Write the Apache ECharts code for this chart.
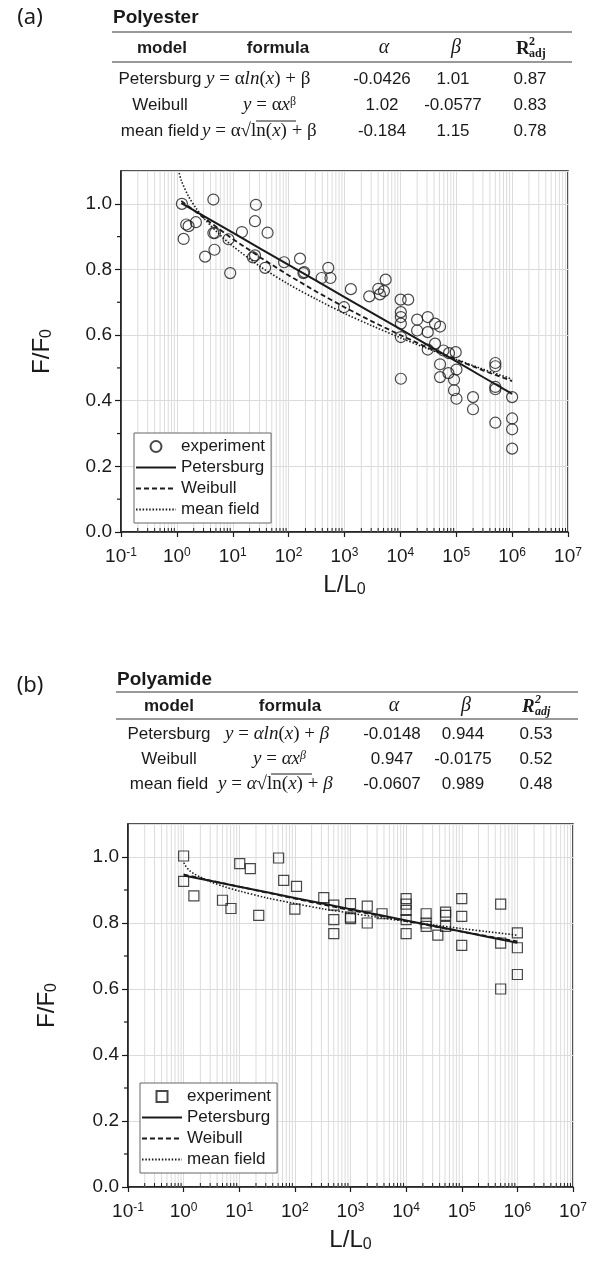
<!DOCTYPE html>
<html>
<head>
<meta charset="utf-8">
<script src="https://cdn.jsdelivr.net/npm/echarts@6/dist/echarts.min.js"></script>
<style>
html, body { margin: 0; padding: 0; background: #fff; }
#main { width: 596px; height: 1263px; }
</style>
</head>
<body>
<div id="main"></div>
<script>
// ---- table text ----
var models = ['Petersburg', 'Weibull', 'mean field'];
var polyesterAlpha = ['-0.0426', '1.02', '-0.184'];
var polyesterBeta = ['1.01', '-0.0577', '1.15'];
var polyesterR2 = ['0.87', '0.83', '0.78'];
var polyamideAlpha = ['-0.0148', '0.947', '-0.0607'];
var polyamideBeta = ['0.944', '-0.0175', '0.989'];
var polyamideR2 = ['0.53', '0.52', '0.48'];

// ---- (a) polyester: experiment [L/L0, F/F0] ----
var polyesterExp = [
    [1.23, 1.00], [1.47, 0.937], [1.62, 0.932], [1.32, 0.893], [2.19, 0.944],
    [4.5, 1.013], [4.5, 0.911], [4.8, 0.911], [4.7, 0.860], [3.2, 0.839],
    [8.4, 0.892], [9.0, 0.789], [14.6, 0.914], [26, 0.997], [25, 0.947],
    [23, 0.837], [25, 0.843], [42, 0.912], [38, 0.805], [83, 0.822],
    [160, 0.833], [184, 0.789], [190, 0.792], [513, 0.805], [390, 0.774],
    [560, 0.774], [1300, 0.740], [980, 0.685], [2770, 0.718], [4030, 0.741],
    [4300, 0.724], [5080, 0.734], [5450, 0.769], [10100, 0.708], [13800, 0.708],
    [10200, 0.670], [10200, 0.655], [10200, 0.635], [19950, 0.647], [30900, 0.655],
    [41700, 0.635], [51300, 0.626], [19950, 0.614], [30900, 0.609], [10200, 0.594],
    [10200, 0.467], [30900, 0.556], [41700, 0.574], [58900, 0.553], [74100, 0.545],
    [97700, 0.548], [51300, 0.511], [51300, 0.472], [72400, 0.484], [101000, 0.495],
    [91200, 0.464], [91200, 0.432], [101000, 0.406], [199500, 0.411], [199500, 0.374],
    [501000, 0.515], [501000, 0.505], [501000, 0.442], [501000, 0.435], [501000, 0.333],
    [1000000, 0.411], [1000000, 0.346], [1000000, 0.313], [1000000, 0.254]
];
// fitted curves
var polyesterFitL = [1.2, 3.16, 10, 31.6, 100, 316, 1000, 3160, 10000, 31600, 100000, 316000, 1000000];
var polyesterPetersburg = [1.002, 0.961, 0.912, 0.863, 0.814, 0.765, 0.716, 0.667, 0.618, 0.569, 0.520, 0.470, 0.421];
var polyesterWeibull = [1.009, 0.955, 0.893, 0.836, 0.782, 0.732, 0.685, 0.641, 0.600, 0.561, 0.525, 0.491, 0.460];
var polyesterMeanL = [1.1, 1.2, 1.6, 2.2, 3.16, 5.6, 10, 31.6, 100, 316, 1000, 3160, 10000, 31600, 100000, 316000, 1000000];
var polyesterMean = [1.094, 1.071, 1.024, 0.987, 0.953, 0.909, 0.871, 0.808, 0.755, 0.709, 0.666, 0.628, 0.592, 0.558, 0.526, 0.495, 0.466];

// ---- (b) polyamide ----
var polyamideExp = [
    [1, 1.003], [1, 0.926], [1.53, 0.882], [5.0, 0.869], [7.1, 0.844],
    [10.2, 0.980], [15.8, 0.965], [22.4, 0.823], [51, 0.997], [63, 0.929],
    [107, 0.911], [100, 0.842], [331, 0.877], [501, 0.854], [501, 0.810],
    [501, 0.768], [1000, 0.859], [1000, 0.818], [1000, 0.813], [2000, 0.851],
    [2000, 0.800], [3690, 0.828], [10000, 0.874], [10000, 0.857], [10000, 0.838],
    [10000, 0.810], [10000, 0.768], [22900, 0.828], [22900, 0.800], [22900, 0.790],
    [37150, 0.763], [51300, 0.833], [51300, 0.823], [51300, 0.790], [100000, 0.874],
    [100000, 0.820], [100000, 0.732], [501000, 0.857], [501000, 0.739], [501000, 0.600],
    [1000000, 0.770], [1000000, 0.725], [1000000, 0.644]
];
var polyamideFitL = [1, 3.16, 10, 31.6, 100, 316, 1000, 3160, 10000, 31600, 100000, 316000, 1000000];
var polyamidePetersburg = [0.944, 0.927, 0.910, 0.893, 0.876, 0.859, 0.842, 0.825, 0.808, 0.791, 0.774, 0.757, 0.740];
var polyamideWeibull = [0.947, 0.928, 0.910, 0.892, 0.874, 0.856, 0.839, 0.823, 0.806, 0.790, 0.774, 0.759, 0.744];
var polyamideMeanL = [1.01, 1.05, 1.26, 1.58, 2.0, 3.16, 5.6, 10, 31.6, 100, 316, 1000, 3160, 10000, 31600, 100000, 316000, 1000000];
var polyamideMean = [0.983, 0.976, 0.960, 0.948, 0.939, 0.924, 0.909, 0.897, 0.876, 0.859, 0.843, 0.830, 0.817, 0.805, 0.794, 0.783, 0.773, 0.763];

// minor (2..9) positions of the log axis, minor y ticks
var minorL = [];
for (var k = -1; k < 7; k++) {
    for (var m = 2; m < 10; m++) minorL.push([m * Math.pow(10, k), 0]);
}
var minorF = [[0.1, 0.1], [0.1, 0.3], [0.1, 0.5], [0.1, 0.7], [0.1, 0.9]];

function pairs(xs, ys) {
    return xs.map(function (x, i) { return [x, ys[i]]; });
}

var SANS = 'Liberation Sans';
var SERIF = 'Liberation Serif';
var INK = '#1a1a1a';
var GRID = '#dcdcdc';

// ---------- axes ----------
function makeX(gi) {
    return {
        type: 'log', logBase: 10, min: 0.1, max: 1e7, gridIndex: gi,
        name: '{n|L/L}{s|0}', nameLocation: 'middle', nameGap: 40,
        nameTextStyle: {
            rich: {
                n: {fontFamily: SANS, fontSize: 24, color: INK, lineHeight: 26},
                s: {fontFamily: SANS, fontSize: 16, color: INK, lineHeight: 8, verticalAlign: 'bottom'}
            }
        },
        axisLine: {onZero: false, lineStyle: {color: INK, width: 1.5}},
        axisTick: {length: 5, lineStyle: {color: INK, width: 1.2}},
        axisLabel: {
            margin: 15,
            formatter: function (v) {
                return '{b|10}{e|' + Math.round(Math.log10(v)) + '}';
            },
            rich: {
                b: {fontFamily: SANS, fontSize: 19, color: INK, lineHeight: 20},
                e: {fontFamily: SANS, fontSize: 12, color: INK, lineHeight: 8, verticalAlign: 'top'}
            }
        },
        splitLine: {show: true, lineStyle: {color: GRID, width: 1}}
    };
}

function makeY(gi, gap) {
    return {
        type: 'value', min: 0, max: 1.1, interval: 0.2, gridIndex: gi,
        name: '{n|F/F}{s|0}', nameLocation: 'middle', nameGap: gap, nameRotate: 90,
        nameTextStyle: {
            rich: {
                n: {fontFamily: SANS, fontSize: 24, color: INK, lineHeight: 26},
                s: {fontFamily: SANS, fontSize: 16, color: INK, lineHeight: 8, verticalAlign: 'bottom'}
            }
        },
        axisLine: {show: true, lineStyle: {color: INK, width: 1.5}},
        axisTick: {show: true, length: 6, lineStyle: {color: INK, width: 1.2}},
        axisLabel: {
            margin: 9, fontFamily: SANS, fontSize: 19, color: INK, showMaxLabel: false,
            formatter: function (v) { return v > 1.05 ? '' : v.toFixed(1); }
        },
        splitLine: {show: true, lineStyle: {color: GRID, width: 1}}
    };
}

// minor grid lines and ticks through the axis scale
function minorSeries(gi) {
    return {
        type: 'custom', xAxisIndex: gi, yAxisIndex: gi, silent: true, z: 1,
        data: minorL,
        renderItem: function (params, api) {
            var p0 = api.coord([api.value(0), 0]);
            var p1 = api.coord([api.value(0), 1.1]);
            return {
                type: 'group',
                children: [
                    {type: 'line', shape: {x1: p0[0], y1: p0[1], x2: p1[0], y2: p1[1]},
                        style: {stroke: GRID, lineWidth: 1}},
                    {type: 'line', shape: {x1: p0[0], y1: p0[1], x2: p0[0], y2: p0[1] - 4},
                        style: {stroke: INK, lineWidth: 1}}
                ]
            };
        }
    };
}
function minorYSeries(gi) {
    return {
        type: 'custom', xAxisIndex: gi, yAxisIndex: gi, silent: true, z: 1,
        data: minorF,
        renderItem: function (params, api) {
            var p = api.coord([api.value(0), api.value(1)]);
            return {type: 'line', shape: {x1: p[0], y1: p[1], x2: p[0] - 4, y2: p[1]},
                style: {stroke: INK, lineWidth: 1.2}};
        }
    };
}

function fitSeries(name, gi, data, kind) {
    var ls = {color: INK, width: 2, type: 'solid'};
    if (kind === 'dash') ls = {color: INK, width: 1.8, type: [5, 3]};
    if (kind === 'dot') ls = {color: INK, width: 1.6, type: [1.5, 1.8]};
    return {
        name: name, type: 'line', xAxisIndex: gi, yAxisIndex: gi, z: 4,
        data: data, showSymbol: false, symbol: 'none', smooth: kind === 'dot' ? 0.3 : false,
        lineStyle: ls, itemStyle: {color: INK}
    };
}

function expSeries(name, gi, data, symbol, size) {
    return {
        name: name, type: 'scatter', xAxisIndex: gi, yAxisIndex: gi, z: 3,
        data: data, symbol: symbol, symbolSize: size, symbolKeepAspect: true,
        itemStyle: {color: 'rgba(255,255,255,0)', borderColor: INK, borderWidth: 1.2}
    };
}

function makeLegend(left, top, suffix, icon) {
    var names = ['experiment', 'Petersburg', 'Weibull', 'mean field'];
    return {
        orient: 'vertical', left: left, top: top,
        data: names.map(function (n, i) {
            if (i === 0) return {name: n + suffix, icon: icon};
            return {name: n + suffix, itemStyle: {opacity: 0}};
        }),
        formatter: function (n) { return n.slice(0, n.length - suffix.length); },
        itemWidth: 40, itemHeight: 11, itemGap: 0, symbolKeepAspect: true,
        textStyle: {fontFamily: SANS, fontSize: 17, color: INK, lineHeight: 21},
        borderColor: '#666', borderWidth: 1, padding: [3, 6, 3, 1],
        backgroundColor: '#fff', selectedMode: false
    };
}

// ---------- table (graphic text) ----------
function txt(x, y, text, st) {
    return {
        type: 'text', x: x, y: y, z: 10,
        style: Object.assign({text: text, fill: INK, fontFamily: SANS, fontSize: 17,
            align: 'center', verticalAlign: 'middle'}, st || {})
    };
}
function rule(x1, x2, y) {
    return {type: 'line', z: 10, shape: {x1: x1, y1: y, x2: x2, y2: y}, style: {stroke: '#777', lineWidth: 1.3}};
}

var formulaRich = {
    i: {fontFamily: SERIF, fontSize: 19, fontStyle: 'italic', fill: INK},
    r: {fontFamily: SERIF, fontSize: 19, fill: INK},
    sup: {fontFamily: SERIF, fontSize: 12, fill: INK, verticalAlign: 'top', lineHeight: 6},
    supi: {fontFamily: SERIF, fontSize: 12, fontStyle: 'italic', fill: INK, verticalAlign: 'top', lineHeight: 6}
};

function buildTable(o) {
    var g = [];
    g.push(txt(o.labelX, o.labelY, o.label, {fontFamily: 'Noto Sans', fontSize: 22, align: 'center'}));
    g.push(txt(o.left, o.titleY, o.title, {fontWeight: 'bold', fontSize: 19, align: 'left'}));
    g.push(rule(o.left - 1, o.right, o.rule1));
    g.push(rule(o.left - 1, o.right, o.rule2));
    var hy = o.headY;
    g.push(txt(o.cModel, hy, 'model', {fontWeight: 'bold'}));
    g.push(txt(o.cFormula, hy, 'formula', {fontWeight: 'bold'}));
    g.push(txt(o.cAlpha, hy, 'α', {fontFamily: SERIF, fontStyle: 'italic', fontSize: 20}));
    g.push(txt(o.cBeta, hy, 'β', {fontFamily: SERIF, fontStyle: 'italic', fontSize: 20}));
    var rs = {fontFamily: SERIF, fontWeight: 'bold', fontStyle: o.italicR ? 'italic' : 'normal', align: 'left'};
    g.push(txt(o.cR2 - 14, hy + 1, 'R', Object.assign({fontSize: 19}, rs)));
    g.push(txt(o.cR2 - 1, hy - 6, '2', Object.assign({fontSize: 12}, rs)));
    g.push(txt(o.cR2 - 1, hy + 6, 'adj', Object.assign({fontSize: 12}, rs)));
    for (var r = 0; r < 3; r++) {
        var y = o.rowY[r];
        g.push(txt(o.cModelRow, y, models[r]));
        g.push(txt(o.formulaX[r], y, o.formulas[r], {align: 'left', rich: formulaRich}));
        g.push(txt(o.cAlpha - 2, y, o.alpha[r]));
        g.push(txt(o.cBeta - 3, y, o.beta[r]));
        g.push(txt(o.cR2 + 0, y, o.r2[r]));
    }
    // radical bar over ln(x)
    g.push({type: 'line', z: 10, shape: {x1: o.barX1, y1: o.rowY[2] - 10, x2: o.barX2, y2: o.rowY[2] - 10},
        style: {stroke: INK, lineWidth: 1}});
    return g;
}

var tableA = buildTable({
    label: '(a)', labelX: 30, labelY: 18, title: 'Polyester', left: 113, titleY: 18, right: 572,
    rule1: 32, rule2: 62, headY: 48, rowY: [79, 105, 131],
    cModel: 162, cFormula: 278, cAlpha: 384, cBeta: 456, cR2: 530, cModelRow: 160, italicR: false,
    formulaX: [206, 243, 202],
    formulas: [
        '{i|y}{r| = α}{i|ln}{r|(}{i|x}{r|) + β}',
        '{i|y}{r| = α}{i|x}{sup|β}',
        '{i|y}{r| = α√ln(}{i|x}{r|) + β}'
    ],
    barX1: 256, barX2: 296,
    alpha: polyesterAlpha, beta: polyesterBeta, r2: polyesterR2
});
var tableB = buildTable({
    label: '(b)', labelX: 30, labelY: 686, title: 'Polyamide', left: 117, titleY: 680, right: 578,
    rule1: 692, rule2: 719, headY: 706, rowY: [734, 759, 784],
    cModel: 169, cFormula: 290, cAlpha: 394, cBeta: 466, cR2: 536, cModelRow: 169, italicR: true,
    formulaX: [225, 253, 218],
    formulas: [
        '{i|y}{r| = }{i|αln}{r|(}{i|x}{r|) + }{i|β}',
        '{i|y}{r| = }{i|αx}{supi|β}',
        '{i|y}{r| = }{i|α}{r|√ln(}{i|x}{r|) + }{i|β}'
    ],
    barX1: 271, barX2: 312,
    alpha: polyamideAlpha, beta: polyamideBeta, r2: polyamideR2
});

var squareIcon = 'path://M0,0L10,0L10,10L0,10Z';

var chart = echarts.init(document.getElementById('main'));
var option = {
    animation: false,
    backgroundColor: '#fff',
    grid: [
        {left: 121, top: 171, width: 447, height: 361, show: true, borderColor: INK, borderWidth: 1.5, containLabel: false},
        {left: 128, top: 824, width: 445, height: 363, show: true, borderColor: INK, borderWidth: 1.5, containLabel: false}
    ],
    xAxis: [makeX(0), makeX(1)],
    yAxis: [makeY(0, 66), makeY(1, 68)],
    legend: [makeLegend(134, 433, '', 'circle'), makeLegend(140, 1083, ' ', squareIcon)],
    graphic: tableA.concat(tableB),
    series: [
        minorSeries(0),
        minorYSeries(0),
        expSeries('experiment', 0, polyesterExp, 'circle', 11),
        fitSeries('Petersburg', 0, pairs(polyesterFitL, polyesterPetersburg), 'solid'),
        fitSeries('Weibull', 0, pairs(polyesterFitL, polyesterWeibull), 'dash'),
        fitSeries('mean field', 0, pairs(polyesterMeanL, polyesterMean), 'dot'),
        minorSeries(1),
        minorYSeries(1),
        expSeries('experiment ', 1, polyamideExp, squareIcon, 10),
        fitSeries('Petersburg ', 1, pairs(polyamideFitL, polyamidePetersburg), 'solid'),
        fitSeries('Weibull ', 1, pairs(polyamideFitL, polyamideWeibull), 'dash'),
        fitSeries('mean field ', 1, pairs(polyamideMeanL, polyamideMean), 'dot')
    ]
};
chart.setOption(option);
</script>
</body>
</html>
